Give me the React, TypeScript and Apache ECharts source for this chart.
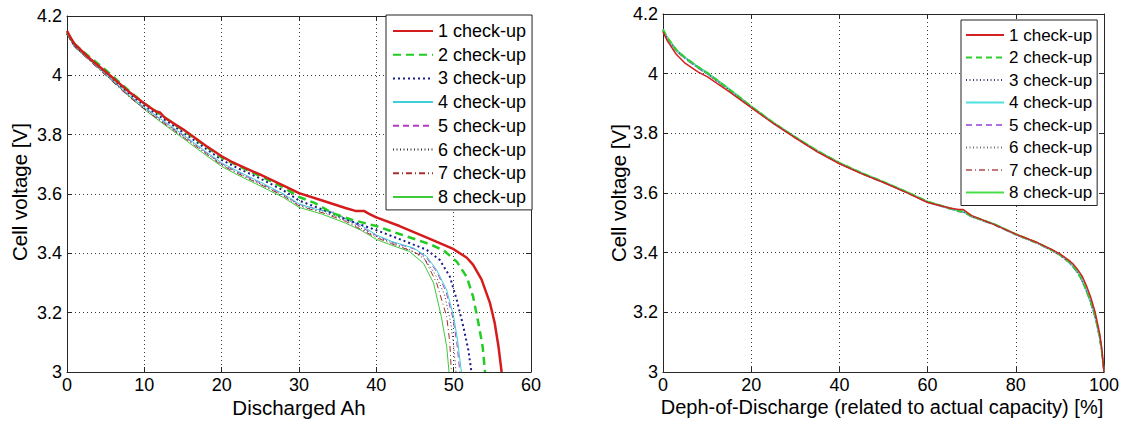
import React, { useEffect, useRef } from "react";
import * as echarts from "echarts";

// ---------- Data: left plot (Discharged Ah vs Cell voltage) ----------
const SERIES_NAMES = ["1 check-up", "2 check-up", "3 check-up", "4 check-up", "5 check-up", "6 check-up", "7 check-up", "8 check-up"];

const L1: number[][] = [[0,4.15],[0.5,4.125],[1,4.105],[3,4.055],[5,4.012],[8,3.945],[10,3.905],[11.5,3.878],[12,3.875],[12.6,3.858],[15,3.818],[18,3.762],[20,3.727],[21.4,3.707],[22,3.7],[25,3.665],[28,3.628],[30,3.603],[33,3.578],[36,3.553],[37.3,3.543],[38.4,3.543],[39,3.534],[40,3.521],[43,3.492],[47,3.448],[50,3.414],[51.7,3.385],[52.5,3.362],[53.6,3.312],[54.7,3.232],[55.3,3.166],[55.8,3.085],[56.2,3.0]];
const L2: number[][] = [[0,4.145],[0.5,4.125],[1,4.105],[3,4.06],[5,4.018],[8,3.948],[10,3.905],[12,3.87],[15,3.815],[18,3.76],[20,3.723],[22,3.697],[25,3.66],[28,3.622],[30,3.59],[32,3.57],[34.4,3.535],[37,3.512],[40,3.492],[43,3.465],[45.2,3.446],[47,3.43],[48.7,3.41],[50.4,3.372],[51.7,3.32],[52.5,3.255],[53.2,3.165],[53.75,3.085],[54.05,3.0]];
const L3: number[][] = [[0,4.14],[1,4.1],[3,4.055],[5,4.01],[8,3.94],[10,3.898],[12,3.862],[15,3.808],[18,3.752],[20,3.715],[22,3.688],[25,3.652],[28,3.612],[30,3.578],[33,3.548],[36,3.515],[40,3.478],[43,3.448],[46.5,3.412],[48.2,3.378],[49.5,3.322],[50.4,3.243],[51.25,3.153],[51.9,3.074],[52.3,3.0]];
const L4: number[][] = [[0,4.14],[1,4.098],[3,4.05],[5,4.005],[8,3.935],[10,3.892],[12,3.855],[15,3.8],[18,3.742],[20,3.705],[22,3.678],[25,3.64],[28,3.6],[30,3.567],[32,3.55],[34,3.54],[35,3.528],[38,3.495],[40,3.462],[42,3.44],[44.8,3.418],[46.5,3.39],[47.8,3.344],[49.1,3.276],[50,3.187],[50.5,3.108],[51,3.0]];
const L5: number[][] = [[0,4.138],[1,4.097],[3,4.05],[5,4.004],[8,3.933],[10,3.89],[12,3.853],[15,3.797],[18,3.74],[20,3.702],[22,3.675],[25,3.637],[28,3.598],[30,3.565],[33,3.545],[34.5,3.538],[36,3.518],[40,3.46],[42,3.438],[45,3.414],[46.5,3.385],[47.8,3.338],[49,3.272],[49.9,3.182],[50.4,3.1],[50.8,3.0]];
const L6: number[][] = [[0,4.138],[1,4.095],[3,4.048],[5,4.002],[8,3.93],[10,3.888],[12,3.85],[15,3.795],[18,3.738],[20,3.7],[22,3.672],[25,3.634],[28,3.595],[30,3.562],[33,3.54],[36,3.512],[40,3.457],[42,3.435],[44.5,3.41],[46.3,3.38],[47.6,3.33],[48.8,3.262],[49.6,3.17],[50.0,3.09],[50.3,3.0]];
const L7: number[][] = [[0,4.138],[1,4.095],[3,4.047],[5,4.0],[8,3.928],[10,3.886],[12,3.848],[15,3.792],[18,3.735],[20,3.697],[22,3.67],[25,3.632],[28,3.593],[30,3.56],[33,3.537],[36,3.508],[40,3.453],[42,3.432],[44.5,3.408],[46.1,3.389],[47.8,3.3],[49.1,3.187],[49.5,3.1],[49.7,3.0]];
const L8: number[][] = [[0,4.14],[1,4.095],[3,4.05],[5,4.003],[8,3.93],[10,3.885],[12,3.845],[15,3.788],[18,3.73],[20,3.693],[22,3.665],[25,3.627],[28,3.588],[30,3.555],[33,3.532],[36,3.502],[38,3.478],[40,3.447],[42,3.427],[44.3,3.406],[46.1,3.366],[47.4,3.3],[48.4,3.187],[49.1,3.085],[49.4,3.0]];

// ---------- Data: right plot (DoD % vs Cell voltage) ----------
const DOD = [0,1,3,5,8,10,15,20,25,30,35,40,45,50,55,60,65,67,68,70,75,80,85,88,90,92,93,94,95,96,97,98,99,99.5,100];
const R1 = [4.14,4.11,4.065,4.035,4.005,3.99,3.94,3.886,3.833,3.785,3.738,3.698,3.665,3.635,3.603,3.568,3.55,3.545,3.545,3.524,3.495,3.462,3.433,3.412,3.396,3.375,3.362,3.344,3.322,3.29,3.25,3.2,3.13,3.08,3.0];
const R2 = [4.148,4.12,4.08,4.054,4.022,4.003,3.948,3.89,3.836,3.787,3.741,3.701,3.667,3.637,3.605,3.571,3.549,3.54,3.538,3.522,3.496,3.462,3.432,3.41,3.393,3.37,3.355,3.336,3.31,3.275,3.235,3.187,3.12,3.07,3.0];
const R3 = [4.146,4.118,4.079,4.052,4.02,4.001,3.946,3.889,3.835,3.786,3.74,3.7,3.666,3.636,3.604,3.57,3.548,3.539,3.537,3.521,3.495,3.461,3.431,3.409,3.392,3.369,3.353,3.334,3.308,3.273,3.233,3.185,3.118,3.068,3.0];
const R4 = [4.147,4.119,4.078,4.053,4.021,4.002,3.947,3.888,3.834,3.786,3.739,3.699,3.666,3.636,3.604,3.57,3.548,3.539,3.538,3.521,3.496,3.461,3.431,3.41,3.393,3.37,3.354,3.335,3.309,3.274,3.234,3.186,3.119,3.069,3.0];
const R5 = [4.145,4.117,4.077,4.051,4.019,4.0,3.945,3.888,3.835,3.785,3.74,3.7,3.665,3.636,3.603,3.57,3.547,3.538,3.537,3.52,3.494,3.46,3.43,3.409,3.392,3.368,3.352,3.333,3.307,3.272,3.232,3.184,3.117,3.067,3.0];
const R6 = [4.146,4.118,4.078,4.052,4.02,4.001,3.946,3.889,3.836,3.786,3.741,3.701,3.666,3.637,3.604,3.571,3.548,3.539,3.538,3.521,3.495,3.461,3.431,3.41,3.393,3.369,3.353,3.334,3.308,3.273,3.233,3.185,3.118,3.068,3.0];
const R7 = [4.144,4.116,4.076,4.05,4.018,3.999,3.944,3.887,3.834,3.784,3.739,3.699,3.665,3.635,3.603,3.569,3.547,3.538,3.536,3.52,3.494,3.46,3.43,3.408,3.391,3.368,3.352,3.333,3.306,3.271,3.231,3.183,3.116,3.066,3.0];
const R8 = [4.149,4.121,4.081,4.055,4.023,4.004,3.949,3.891,3.837,3.788,3.742,3.702,3.668,3.638,3.606,3.572,3.55,3.541,3.539,3.523,3.497,3.463,3.433,3.411,3.394,3.371,3.356,3.337,3.311,3.276,3.236,3.188,3.121,3.071,3.0];

const LEFT_X_TICKS = { min: 0, max: 60, interval: 10 };
const RIGHT_X_TICKS = { min: 0, max: 100, interval: 20 };
const Y_TICKS = { min: 3, max: 4.2, interval: 0.2 };

const LEFT_DATA = [L1, L2, L3, L4, L5, L6, L7, L8];
const RIGHT_DATA = [R1, R2, R3, R4, R5, R6, R7, R8];

// ---------- Styles ----------
const FONT = "'Liberation Sans', Arial, Helvetica, sans-serif";
const LEFT_STYLES = [
  { color: "#d41c1c", width: 2.5, type: "solid" as any },
  { color: "#22cc22", width: 2.5, type: [8, 5] as any },
  { color: "#1c1c8c", width: 2, type: [2, 3] as any },
  { color: "#3cd0d8", width: 1, type: "solid" as any },
  { color: "#b03cc0", width: 1, type: [6, 4] as any },
  { color: "#303030", width: 1, type: [1, 2.5] as any },
  { color: "#a83030", width: 1, type: [6, 3, 1, 3] as any },
  { color: "#3ccc3c", width: 1, type: "solid" as any },
];
const RIGHT_STYLES = [
  { color: "#d42020", width: 1.5, type: "solid" as any },
  { color: "#2ed02e", width: 2, type: [6, 4] as any },
  { color: "#3a3a6a", width: 1.2, type: [1, 2.5] as any },
  { color: "#50e0e0", width: 1.5, type: "solid" as any },
  { color: "#b070e0", width: 1.5, type: [6, 4] as any },
  { color: "#707070", width: 1.2, type: [1, 2.5] as any },
  { color: "#c07878", width: 1.5, type: [6, 3, 1, 3] as any },
  { color: "#48dd48", width: 1.5, type: "solid" as any },
];

const AXIS_COLOR = "#262626";

function makeAxes(gridIndex: number, xt: { min: number; max: number; interval: number }) {
  const common = {
    gridIndex,
    axisLine: { show: true, onZero: false, lineStyle: { color: AXIS_COLOR, width: 1 } },
    axisTick: { show: true, inside: true, length: 5, lineStyle: { color: AXIS_COLOR } },
  };
  const xs = [
    {
      ...common,
      type: "value",
      position: "bottom",
      min: xt.min,
      max: xt.max,
      interval: xt.interval,
      axisLabel: { color: "#000", fontSize: 18, fontFamily: FONT, margin: 4, showMinLabel: true, showMaxLabel: true },
      splitLine: { show: true, lineStyle: { color: "#3a3a3a", width: 1, type: [1, 3] } },
    },
    {
      ...common,
      type: "value",
      position: "top",
      min: xt.min,
      max: xt.max,
      interval: xt.interval,
      axisLabel: { show: false },
      splitLine: { show: false },
    },
  ];
  const ys = [
    {
      ...common,
      type: "value",
      position: "left",
      min: Y_TICKS.min,
      max: Y_TICKS.max,
      interval: Y_TICKS.interval,
      axisLabel: {
        color: "#000",
        fontSize: 18,
        fontFamily: FONT,
        margin: 5,
        showMinLabel: true,
        showMaxLabel: true,
        formatter: (v: number) => String(Math.round(v * 10) / 10),
      },
      splitLine: { show: true, lineStyle: { color: "#3a3a3a", width: 1, type: [1, 3] } },
    },
    {
      ...common,
      type: "value",
      position: "right",
      min: Y_TICKS.min,
      max: Y_TICKS.max,
      interval: Y_TICKS.interval,
      axisLabel: { show: false },
      splitLine: { show: false },
    },
  ];
  return { xs, ys };
}

export default function App() {
  const ref = useRef<HTMLDivElement>(null);
  useEffect(() => {
    document.body.style.margin = "0";
    if (!ref.current) return;
    const chart = echarts.init(ref.current, undefined, { renderer: "svg" });

    const left = makeAxes(0, LEFT_X_TICKS);
    const right = makeAxes(1, RIGHT_X_TICKS);

    const rightNames = SERIES_NAMES.map((_, i) => "R" + (i + 1));

    const series: any[] = [];
    LEFT_DATA.forEach((d, i) => {
      const s = LEFT_STYLES[i];
      series.push({
        type: "line",
        name: SERIES_NAMES[i],
        xAxisIndex: 0,
        yAxisIndex: 0,
        data: d,
        symbol: "none",
        showSymbol: false,
        lineStyle: { color: s.color, width: s.width, type: s.type },
        itemStyle: { color: "rgba(0,0,0,0)", borderWidth: 0 },
        z: 10 - i,
      });
    });
    RIGHT_DATA.forEach((d, i) => {
      const s = RIGHT_STYLES[i];
      series.push({
        type: "line",
        name: rightNames[i],
        xAxisIndex: 2,
        yAxisIndex: 2,
        data: DOD.map((x, k) => [x, d[k]]),
        symbol: "none",
        showSymbol: false,
        lineStyle: { color: s.color, width: s.width, type: s.type },
        itemStyle: { color: "rgba(0,0,0,0)", borderWidth: 0 },
        z: 10 - i,
      });
    });

    const legendCommon = {
      orient: "vertical",
      backgroundColor: "#ffffff",
      borderColor: "#222",
      borderWidth: 1,
      borderRadius: 0,
      selectedMode: false,
      itemHeight: 14,
      itemStyle: { opacity: 0, borderWidth: 0 },
      z: 20,
    };

    chart.setOption({
      animation: false,
      backgroundColor: "#ffffff",
      grid: [
        { left: 67, top: 16, width: 464, height: 356, containLabel: false },
        { left: 663, top: 14, width: 441, height: 358, containLabel: false },
      ],
      xAxis: [...left.xs, ...right.xs],
      yAxis: [...left.ys, ...right.ys],
      legend: [
        {
          ...legendCommon,
          data: SERIES_NAMES,
          left: 386,
          top: 15,
          padding: [6, 6, 3, 6],
          itemWidth: 40,
          itemGap: 3.7,
          textStyle: { fontSize: 18, lineHeight: 20, color: "#000", fontFamily: FONT },
        },
        {
          ...legendCommon,
          data: rightNames,
          left: 961,
          top: 20,
          padding: [5, 5, 3, 4],
          itemWidth: 38,
          itemGap: 2.5,
          formatter: (name: string) => SERIES_NAMES[Number(name.slice(1)) - 1],
          textStyle: { fontSize: 17, lineHeight: 20, color: "#000", fontFamily: FONT },
        },
      ],
      graphic: [
        {
          type: "text",
          x: 299,
          y: 407,
          style: { text: "Discharged Ah", fontSize: 20.5, fontFamily: FONT, fill: "#000", textAlign: "center", textVerticalAlign: "middle" },
        },
        {
          type: "text",
          x: 19,
          y: 192,
          rotation: Math.PI / 2,
          style: { text: "Cell voltage [V]", fontSize: 20.5, fontFamily: FONT, fill: "#000", textAlign: "center", textVerticalAlign: "middle" },
        },
        {
          type: "text",
          x: 882,
          y: 407,
          style: {
            text: "Deph-of-Discharge (related to actual capacity) [%]",
            fontSize: 20,
            fontFamily: FONT,
            fill: "#000",
            textAlign: "center",
            textVerticalAlign: "middle",
          },
        },
        {
          type: "text",
          x: 618,
          y: 193,
          rotation: Math.PI / 2,
          style: { text: "Cell voltage [V]", fontSize: 20.5, fontFamily: FONT, fill: "#000", textAlign: "center", textVerticalAlign: "middle" },
        },
      ],
      series,
    });

    return () => {
      chart.dispose();
    };
  }, []);

  return <div ref={ref} style={{ width: 1123, height: 421 }} />;
}
